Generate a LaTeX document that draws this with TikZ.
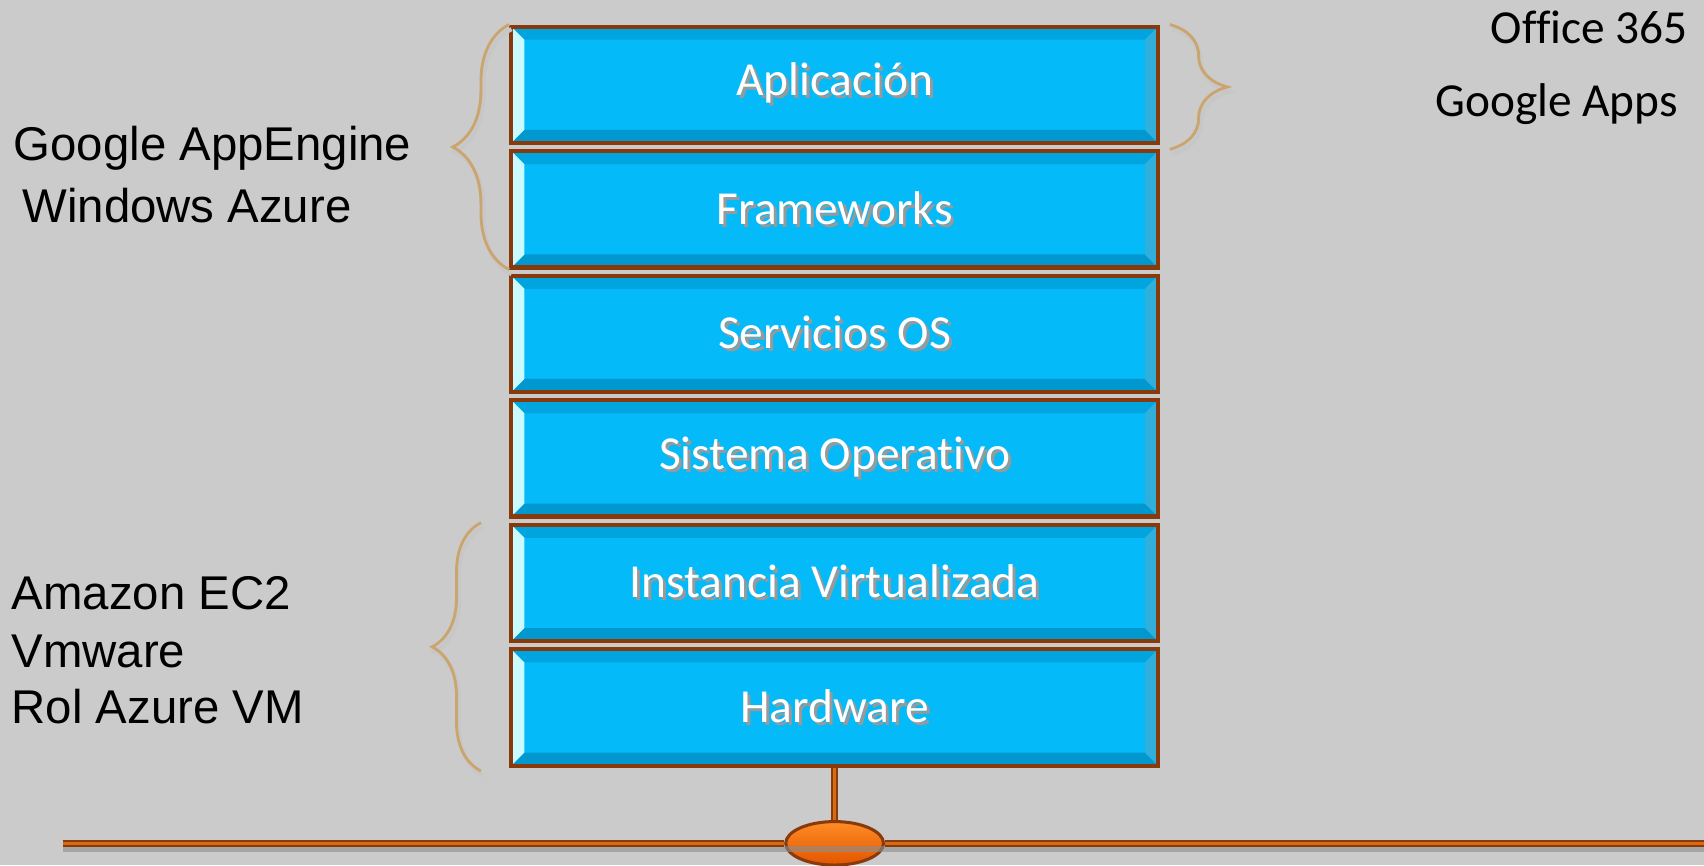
\documentclass[tikz,border=0pt]{standalone}
\usepackage{fontspec}
\setmainfont{Carlito}[Ligatures=NoCommon]
\newfontfamily\arialfont{Liberation Sans}
\usetikzlibrary{shapes.geometric,decorations.pathreplacing}
\definecolor{slide-gray}{HTML}{CBCBCB}
\definecolor{layer-blue}{HTML}{05BAF8}
\definecolor{bevel-top}{HTML}{00A5DF}
\definecolor{bevel-bottom}{HTML}{0098CF}
\definecolor{bevel-left}{HTML}{C8FAFF}
\definecolor{bevel-right}{HTML}{30AEDC}
\definecolor{rim-brown}{HTML}{883A0C}
\definecolor{pipe-orange}{HTML}{D86A10}
\definecolor{hub-light}{HTML}{FF8C25}
\definecolor{hub-dark}{HTML}{E25500}
\definecolor{brace-tan}{HTML}{CBA56E}

\newcommand{\layertext}[1]{\rlap{\kern0.8pt\raisebox{-0.8pt}{\textcolor{black!40}{#1}}}#1}

\tikzset{
  layer/.style={draw=rim-brown, line width=1.1pt, fill=layer-blue,
    minimum width=5.95cm, minimum height=1.07cm, inner sep=0pt,
    text=white, font=\fontsize{12.4}{14}\selectfont,
    path picture={
      \coordinate (pnw) at (path picture bounding box.north west);
      \coordinate (pne) at (path picture bounding box.north east);
      \coordinate (psw) at (path picture bounding box.south west);
      \coordinate (pse) at (path picture bounding box.south east);
      \fill[bevel-top] (pnw) -- (pne) -- ([shift={(-.12,-.12)}]pne) -- ([shift={(.12,-.12)}]pnw) -- cycle;
      \fill[bevel-bottom] (psw) -- (pse) -- ([shift={(-.12,.12)}]pse) -- ([shift={(.12,.12)}]psw) -- cycle;
      \fill[bevel-left] (pnw) -- (psw) -- ([shift={(.12,.12)}]psw) -- ([shift={(.12,-.12)}]pnw) -- cycle;
      \fill[bevel-right] (pne) -- (pse) -- ([shift={(-.12,.12)}]pse) -- ([shift={(-.12,-.12)}]pne) -- cycle;
    }},
  side-label/.style={anchor=base west, inner sep=0pt, font=\arialfont\fontsize{12.4}{14}\selectfont},
  saas-label/.style={anchor=base west, inner sep=0pt, font=\fontsize{12.4}{14}\selectfont},
  brace-line/.style={draw=brace-tan, line width=0.75pt, decorate, decoration={brace, amplitude=#1},
    preaction={draw=black!22, line width=1.1pt, transform canvas={xshift=0.6pt, yshift=-1.2pt}}},
  brace-line/.default=0.5cm,
  pipe/.style={draw=rim-brown, line width=0.55pt, double=pipe-orange, double distance=0.85pt},
  pipe-shadow/.style={draw=black!45, line width=1.6pt, opacity=0.6},
  hub/.style={ellipse, draw=rim-brown, line width=0.8pt, top color=hub-light, bottom color=hub-dark,
    minimum width=0.9cm, minimum height=0.4cm, inner sep=0pt}
}

\begin{document}
\begin{tikzpicture}
  \useasboundingbox (0,0) rectangle (15.68,-7.96);
  \fill[slide-gray] (0,0) rectangle (15.68,-7.96);

  \node[layer] (app) at (7.68,-0.780) {\layertext{Aplicación}};
  \node[layer] (fw) at (7.68,-1.926) {\layertext{Frameworks}};
  \node[layer] (sos) at (7.68,-3.072) {\layertext{Servicios OS}};
  \node[layer] (so) at (7.68,-4.218) {\layertext{Sistema Operativo}};
  \node[layer] (iv) at (7.68,-5.364) {\layertext{Instancia Virtualizada}};
  \node[layer] (hw) at (7.68,-6.510) {\layertext{Hardware}};

  \node[side-label] (gae) at (0.12,-1.48) {Google AppEngine};
  \node[side-label] (wa) at (0.20,-2.05) {Windows Azure};
  \node[side-label] (ec2) at (0.10,-5.61) {Amazon EC2};
  \node[side-label] (vmw) at (0.10,-6.14) {Vmware};
  \node[side-label] (azvm) at (0.10,-6.66) {Rol Azure VM};
  \node[saas-label] (o365) at (13.71,-0.40) {Office 365};
  \node[saas-label] (gapps) at (13.20,-1.07) {Google Apps};

  \draw[brace-line=0.52cm] (fw.south west) -- (app.north west);
  \draw[brace-line=0.45cm] ([shift={(-0.26,-0.03)}]hw.south west) -- ([xshift=-0.26cm]iv.north west);
  \draw[brace-line=0.53cm] ([xshift=0.09cm]app.north east) -- ([shift={(0.09,-0.04)}]app.south east);

  \node[hub] (hub) at (7.68,-7.76) {};
  \coordinate (lineL) at (0.58,-7.76);
  \coordinate (lineR) at (15.70,-7.76);
  \draw[pipe-shadow] ([yshift=-1.6pt]lineL) -- ([yshift=-1.6pt]lineR);
  \draw[pipe] (lineL) -- (hub);
  \draw[pipe] (hub) -- (lineR);
  \draw[pipe] (hw) -- (hub);
\end{tikzpicture}
\end{document}
